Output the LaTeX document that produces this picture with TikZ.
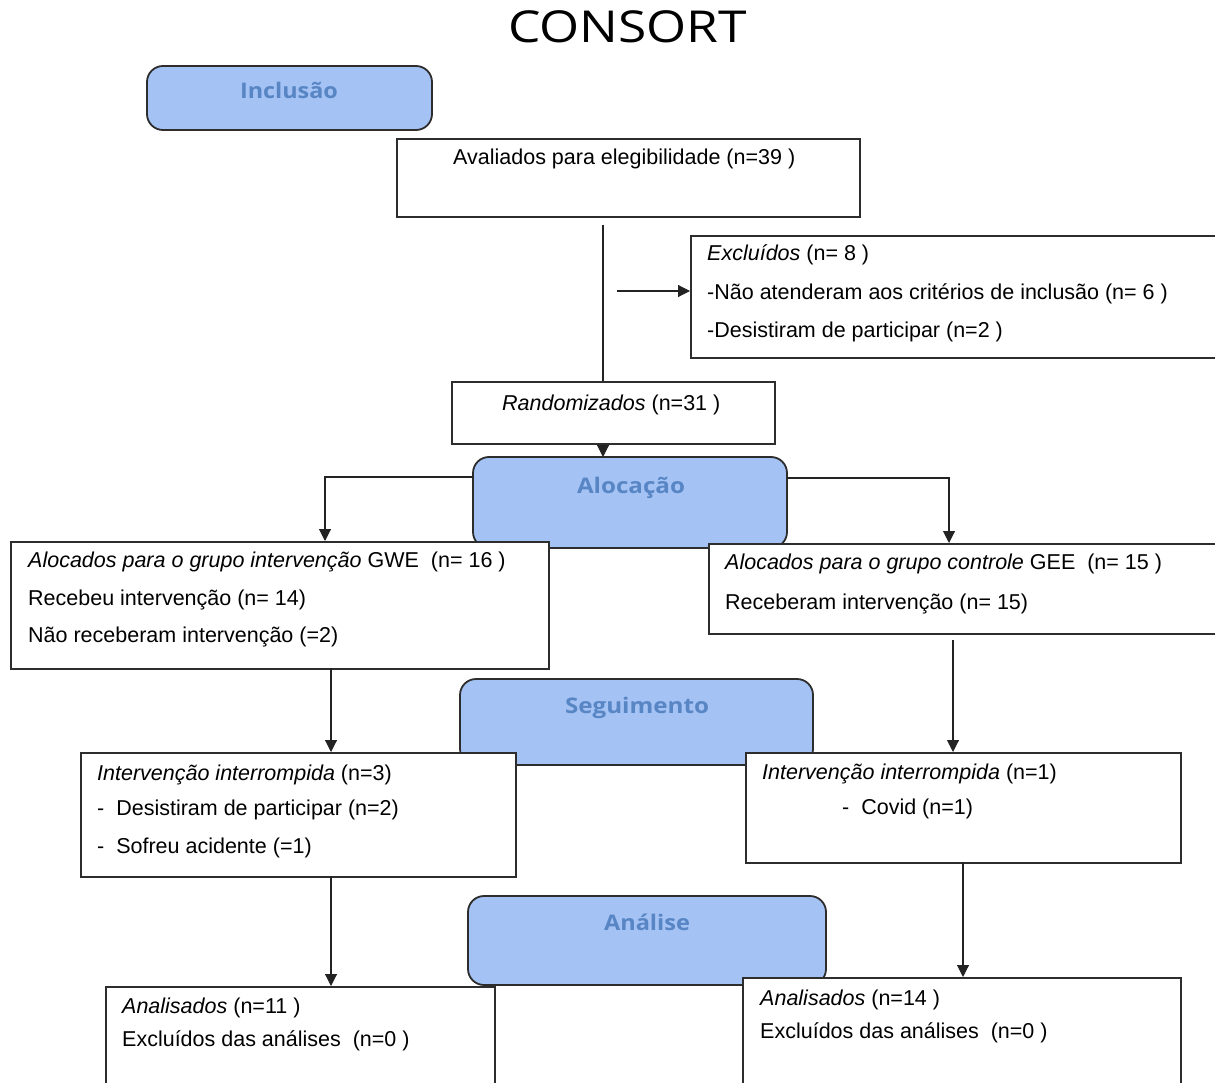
\documentclass[tikz,border=0pt]{standalone}
\usepackage{fontspec}
\usepackage{graphicx}
\setmainfont{Liberation Sans}
\newfontfamily\headfont{Open Sans}
\usetikzlibrary{arrows.meta}
\definecolor{hdrfill}{RGB}{164,194,244}
\definecolor{hdrtext}{RGB}{88,134,196}
\definecolor{edgec}{RGB}{45,45,45}
\definecolor{connc}{RGB}{35,35,35}
\tikzset{
  hdr/.style={draw=edgec, line width=1.8pt, fill=hdrfill, rounded corners=16pt},
  hdrtxt/.style={inner sep=0pt, anchor=base, text=hdrtext, font=\headfont\bfseries\fontsize{21.5}{24}\selectfont},
  box/.style={draw=edgec, line width=1.6pt, fill=white},
  txt/.style={inner sep=0pt, anchor=base west, font=\fontsize{21.5}{26}\selectfont},
  conn/.style={draw=connc, line width=1.1pt},
  arr/.style={conn, -{Triangle[width=12pt,length=12pt]}}
}
\begin{document}
\begin{tikzpicture}[x=1pt,y=-1pt]
\useasboundingbox (0,0) rectangle (1215,1083);
\fill[white] (0,0) rectangle (1215,1083);

% title
\node[inner sep=0pt, anchor=base] (title) at (627.5,43)
  {\headfont\fontsize{44}{48}\selectfont\resizebox{239pt}{\height}{CONSORT}};

% header boxes
\draw[hdr] (147,66) rectangle (432,130);
\node[hdrtxt] (hIncl) at (289,99) {\resizebox{98pt}{\height}{Inclusão}};
\draw[hdr] (473,457) rectangle (787,548);
\node[hdrtxt] (hAloc) at (631,493) {\resizebox{108pt}{\height}{Alocação}};
\draw[hdr] (460,679) rectangle (813,765);
\node[hdrtxt] (hSeg) at (637,713) {\resizebox{144pt}{\height}{Seguimento}};
\draw[hdr] (468,896) rectangle (826,985);
\node[hdrtxt] (hAna) at (647,930) {\resizebox{86pt}{\height}{Análise}};

% boxes
\node[box, anchor=north west, minimum width=463pt, minimum height=78pt, inner sep=0pt] (aval) at (396,138) {};
\node[txt] (tAval) at (453,165) {Avaliados para elegibilidade (n=39 )};

\node[box, anchor=north west, minimum width=530pt, minimum height=122pt, inner sep=0pt] (excl) at (690,235) {};
\node[txt] (tEx1) at (707,261) {\textit{Excluídos} (n= 8 )};
\node[txt] (tEx2) at (707,299) {-Não atenderam aos critérios de inclusão (n= 6 )};
\node[txt] (tEx3) at (707,337) {-Desistiram de participar (n=2 )};

\node[box, anchor=north west, minimum width=323pt, minimum height=62pt, inner sep=0pt] (rand) at (451,381) {};
\node[txt] (tRand) at (502,410) {\textit{Randomizados} (n=31 )};

\node[box, anchor=north west, minimum width=538pt, minimum height=127pt, inner sep=0pt] (gaL) at (10,541) {};
\node[txt] (tGL1) at (28,567) {\textit{Alocados para o grupo intervenção} GWE\ \ (n= 16 )};
\node[txt] (tGL2) at (28,605) {Recebeu intervenção (n= 14)};
\node[txt] (tGL3) at (28,642) {Não receberam intervenção (=2)};

\node[box, anchor=north west, minimum width=512pt, minimum height=90pt, inner sep=0pt] (gaR) at (708,543) {};
\node[txt] (tGR1) at (725,569) {\textit{Alocados para o grupo controle} GEE\ \ (n= 15 )};
\node[txt] (tGR2) at (725,609) {Receberam intervenção (n= 15)};

\node[box, anchor=north west, minimum width=435pt, minimum height=124pt, inner sep=0pt] (segL) at (80,752) {};
\node[txt] (tSL1) at (97,780) {\textit{Intervenção interrompida} (n=3)};
\node[txt] (tSL2) at (97,815) {-\ \ Desistiram de participar (n=2)};
\node[txt] (tSL3) at (97,853) {-\ \ Sofreu acidente (=1)};

\node[box, anchor=north west, minimum width=435pt, minimum height=110pt, inner sep=0pt] (segR) at (745,752) {};
\node[txt] (tSR1) at (762,779) {\textit{Intervenção interrompida} (n=1)};
\node[txt] (tSR2) at (842,814) {-\ \ Covid (n=1)};

\node[box, anchor=north west, minimum width=389pt, minimum height=110pt, inner sep=0pt] (anL) at (105,986) {};
\node[txt] (tAL1) at (122,1013) {\textit{Analisados} (n=11 )};
\node[txt] (tAL2) at (122,1046) {Excluídos das análises\ \ (n=0 )};

\node[box, anchor=north west, minimum width=438pt, minimum height=120pt, inner sep=0pt] (anR) at (742,977) {};
\node[txt] (tAR1) at (760,1005) {\textit{Analisados} (n=14 )};
\node[txt] (tAR2) at (760,1038) {Excluídos das análises\ \ (n=0 )};

% connectors
\coordinate (v0) at (603,225);
\draw[conn] (v0) -- (v0 |- rand.north);
\coordinate (e0) at (617,291);
\draw[arr] (e0) -- (e0 -| excl.west);
\draw[arr] (v0 |- rand.south) -- (603,457);

\coordinate (lb) at (325,477);
\draw[arr] (473,477) -- (lb) -- (lb |- gaL.north);
\coordinate (rb) at (949,478);
\draw[arr] (787,478) -- (rb) -- (rb |- gaR.north);

\coordinate (s1) at (331,668);
\draw[arr] (s1) -- (s1 |- segL.north);
\coordinate (s2) at (953,640);
\draw[arr] (s2) -- (s2 |- segR.north);
\coordinate (s3) at (331,876);
\draw[arr] (s3) -- (s3 |- anL.north);
\coordinate (s4) at (963,862);
\draw[arr] (s4) -- (s4 |- anR.north);
\end{tikzpicture}
\end{document}
